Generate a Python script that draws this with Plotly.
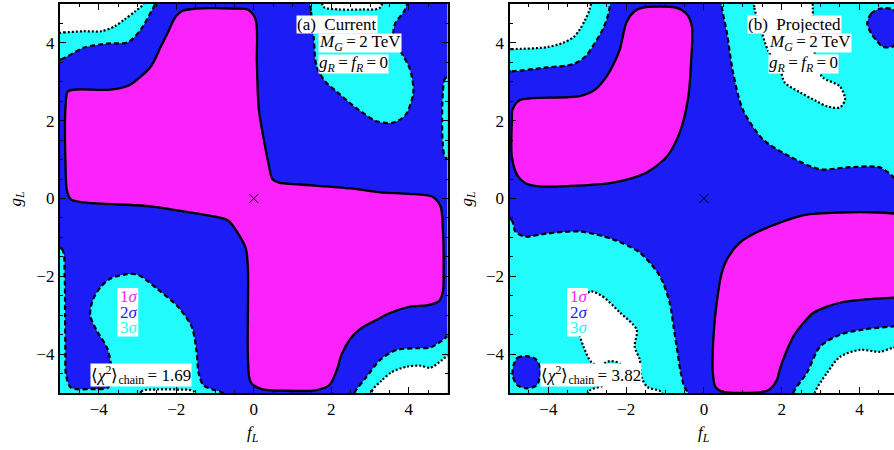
import plotly.graph_objects as go

# ---- fill colours of the confidence regions ----
MAGENTA = "#FB22FB"   # 1 sigma
BLUE = "#1C1CF6"      # 2 sigma
CYAN = "#22FBFB"      # 3 sigma
SERIF = "'Liberation Serif', 'Times New Roman', Times, serif"
TS = "\u2009"         # thin space around relations, as in typeset math

# ---- panel (a): Current ----  boundaries as (f_L, g_L) vertices
a_1sigma = [(-4.8, 2.75), (-4.6, 2.8), (-3.7, 2.8), (-3.2, 2.92), (-2.65, 3.4), (-2.4, 3.9),
            (-2.2, 4.3), (-2.05, 4.62), (-1.85, 4.82), (-1.5, 4.88), (-0.5, 4.88), (-0.15, 4.85),
            (0.05, 4.6), (0.08, 3.5), (0.13, 2.3), (0.3, 1.3), (0.38, 0.9), (0.48, 0.5),
            (0.65, 0.41), (1.2, 0.36), (2.5, 0.26), (3.27, 0.16), (4.0, 0.12), (4.6, 0.05),
            (4.82, -0.2), (4.88, -0.8), (4.9, -1.8), (4.88, -2.4), (4.78, -2.64), (4.5, -2.74),
            (4.04, -2.78), (3.5, -2.95), (3.19, -3.11), (2.75, -3.35), (2.5, -3.6), (2.27, -4.0),
            (2.14, -4.42), (1.95, -4.8), (1.6, -4.93), (0.8, -4.94), (0.2, -4.9), (-0.08, -4.72),
            (-0.15, -4.1), (-0.15, -1.8), (-0.2, -1.3), (-0.33, -1.02), (-0.67, -0.56),
            (-1.03, -0.46), (-2.0, -0.3), (-2.65, -0.2), (-4.37, -0.1), (-4.72, -0.02),
            (-4.82, 0.2), (-4.86, 1.0), (-4.86, 2.3)]
a_3sigma = [
    [(-5.4, 3.55), (-4.97, 3.58), (-4.38, 3.88), (-3.8, 3.98), (-3.24, 4.02), (-2.91, 4.35),
     (-2.65, 4.8), (-2.55, 5.0), (-2.5, 5.4), (-5.4, 5.4)],
    [(1.45, 5.4), (1.48, 4.8), (1.55, 4.1), (1.62, 3.4), (1.85, 3.0), (2.16, 2.73), (2.68, 2.3),
     (3.19, 1.98), (3.6, 1.95), (3.92, 2.15), (4.12, 2.75), (4.02, 3.35), (3.75, 3.85),
     (3.6, 4.15), (3.65, 4.5), (3.9, 4.85), (4.0, 5.4)],
    [(5.4, 3.15), (4.95, 3.1), (4.88, 2.7), (4.86, 2.0), (4.88, 1.4), (4.95, 1.05), (5.4, 1.0)],
    [(-5.4, -1.25), (-4.95, -1.3), (-4.88, -2.0), (-4.87, -3.0), (-4.86, -4.0), (-4.85, -4.5),
     (-4.72, -4.86), (-4.2, -4.9), (-3.75, -4.85), (-3.68, -4.35), (-3.78, -3.85),
     (-4.05, -3.4), (-4.22, -3.0), (-4.15, -2.6), (-3.94, -2.26), (-3.68, -2.05),
     (-3.3, -1.95), (-2.99, -1.96), (-2.47, -2.34), (-1.96, -2.78), (-1.6, -3.3),
     (-1.48, -3.9), (-1.42, -4.5), (-1.3, -4.8), (-1.0, -4.93), (-0.8, -5.0), (-0.78, -5.4),
     (-5.4, -5.4)],
    [(2.55, -5.4), (2.6, -5.0), (2.9, -4.6), (3.27, -4.14), (3.7, -3.89), (4.2, -3.85),
     (4.56, -3.83), (4.85, -3.66), (5.0, -3.55), (5.4, -3.5), (5.4, -5.4)],
]
a_outside = [
    [(-5.4, 4.25), (-4.9, 4.27), (-4.4, 4.3), (-3.94, 4.3), (-3.6, 4.42), (-3.34, 4.6),
     (-3.05, 4.82), (-2.85, 5.0), (-2.8, 5.4), (-5.4, 5.4)],
    [(1.75, 5.4), (1.8, 4.93), (2.2, 4.86), (2.8, 4.86), (3.25, 4.9), (3.35, 5.4)],
    [(-2.95, -5.4), (-2.9, -4.96), (-2.5, -4.91), (-2.0, -4.91), (-1.55, -4.96), (-1.5, -5.4)],
    [(3.0, -5.4), (3.05, -4.95), (3.3, -4.68), (3.55, -4.47), (3.96, -4.32), (4.3, -4.3),
     (4.56, -4.35), (4.85, -4.16), (5.0, -4.05), (5.4, -4.0), (5.4, -5.4)],
]
a_2sigma_islands = []
a_chi2 = "1.69"

# ---- panel (b): Projected ----
b_1sigma = [
    [(-4.94, 1.96), (-4.92, 2.29), (-4.75, 2.52), (-4.4, 2.58), (-3.19, 2.63), (-2.8, 2.8),
     (-2.5, 3.14), (-2.3, 3.5), (-2.16, 3.84), (-1.99, 4.53), (-1.8, 4.8), (-1.6, 4.9),
     (-0.7, 4.9), (-0.45, 4.75), (-0.31, 4.43), (-0.33, 3.5), (-0.41, 2.55), (-0.62, 1.7),
     (-0.95, 1.08), (-1.47, 0.67), (-2.34, 0.41), (-3.5, 0.32), (-4.22, 0.31), (-4.6, 0.4),
     (-4.8, 0.6), (-4.94, 1.08)],
    [(0.23, -4.48), (0.25, -3.5), (0.33, -2.68), (0.45, -1.95), (0.59, -1.57), (0.93, -1.13),
     (1.4, -0.85), (1.96, -0.62), (2.6, -0.42), (3.5, -0.36), (4.5, -0.36), (5.0, -0.4),
     (5.4, -0.5), (5.4, -2.5), (4.86, -2.55), (4.09, -2.6), (3.5, -2.68), (3.17, -2.78),
     (2.8, -2.95), (2.57, -3.19), (2.3, -3.55), (2.14, -3.89), (1.95, -4.4), (1.88, -4.66),
     (1.7, -4.9), (1.52, -4.97), (0.49, -4.97), (0.3, -4.85)],
]
b_3sigma = [
    [(-5.4, 3.27), (-4.94, 3.27), (-4.04, 3.37), (-3.37, 3.45), (-3.05, 3.65), (-2.86, 3.91),
     (-2.6, 4.35), (-2.47, 4.7), (-2.42, 4.95), (-2.4, 5.4), (-5.4, 5.4)],
    [(0.45, 5.4), (0.46, 4.94), (0.59, 4.27), (0.75, 3.24), (1.0, 2.29), (1.52, 1.52),
     (2.21, 1.08), (2.99, 0.75), (3.68, 0.8), (4.53, 0.8), (4.86, 0.57), (5.0, 0.45),
     (5.4, 0.4), (5.4, 5.4)],
    [(-5.4, -0.5), (-4.95, -0.55), (-4.85, -0.85), (-4.6, -0.98), (-4.04, -0.9), (-3.19, -0.85),
     (-2.34, -1.05), (-1.65, -1.39), (-1.13, -2.0), (-0.88, -2.68), (-0.78, -3.3),
     (-0.7, -3.81), (-0.6, -4.45), (-0.5, -4.85), (-0.4, -5.0), (-0.35, -5.4), (-5.4, -5.4)],
    [(2.29, -5.4), (2.3, -5.0), (2.65, -4.48), (2.99, -3.81), (3.5, -3.5), (4.09, -3.37),
     (4.86, -3.29), (5.4, -3.25), (5.4, -5.4)],
]
b_outside = [
    [(-5.4, 3.84), (-4.94, 3.84), (-4.04, 3.89), (-3.63, 4.0), (-3.35, 4.15), (-3.19, 4.35),
     (-3.05, 4.6), (-2.94, 4.86), (-2.9, 5.4), (-5.4, 5.4)],
    [(1.3, 5.4), (1.3, 4.9), (1.45, 4.4), (1.65, 3.8), (1.96, 3.32), (2.08, 2.98), (2.47, 2.73),
     (2.9, 2.5), (3.17, 2.37), (3.5, 2.34), (3.63, 2.55), (3.5, 2.88), (3.06, 3.11),
     (2.9, 3.4), (2.82, 4.2), (2.8, 4.9), (2.75, 5.4)],
    [(-2.89, -2.39), (-2.6, -2.52), (-2.16, -2.93), (-1.73, -3.37), (-1.78, -3.81),
     (-1.65, -4.14), (-1.6, -4.6), (-1.45, -4.85), (-1.1, -4.97), (-1.0, -5.4), (-2.95, -5.4),
     (-2.95, -4.95), (-2.55, -4.8), (-2.2, -4.55), (-2.16, -4.25), (-2.42, -4.18),
     (-2.7, -4.3), (-2.9, -4.2), (-3.1, -3.8), (-3.25, -3.3), (-3.25, -2.85), (-3.1, -2.5)],
    [(2.83, -5.4), (2.85, -5.0), (3.17, -4.48), (3.5, -4.07), (4.02, -3.89), (4.53, -3.94),
     (4.86, -3.84), (5.4, -3.8), (5.4, -5.4)],
]
b_2sigma_islands = [
    [(4.2, 4.5), (4.3, 4.75), (4.5, 4.87), (4.8, 4.88), (5.05, 4.7), (5.05, 4.1), (4.85, 3.9),
     (4.6, 3.9), (4.45, 4.05), (4.3, 4.25)],
    [(-4.9, -4.3), (-4.8, -4.1), (-4.55, -4.05), (-4.3, -4.15), (-4.2, -4.45), (-4.3, -4.8),
     (-4.55, -4.88), (-4.8, -4.8), (-4.92, -4.55)],
]
b_chi2 = "3.82"

best_fit = (0.0, 0.0)
panel_tags = ["(a)  Current", "(b)  Projected"]
sigma_labels = ["1<i>σ</i>", "2<i>σ</i>", "3<i>σ</i>"]
tick_vals = [-4, -2, 0, 2, 4]

DASH_2S = "5px,3px"
DOT_3S = "2px,2px"


def region(pts, fill, dash, width, xa, ya):
    f = [p[0] for p in pts] + [pts[0][0]]
    g = [p[1] for p in pts] + [pts[0][1]]
    return go.Scatter(x=f, y=g, mode="lines", fill="toself", fillcolor=fill,
                      line=dict(color="black", width=width, dash=dash,
                                shape="spline", smoothing=0.8),
                      xaxis=xa, yaxis=ya, hoverinfo="skip", showlegend=False)


fig = go.Figure()
panels = [
    ("x", "y", a_3sigma, a_outside, a_2sigma_islands, [a_1sigma]),
    ("x2", "y2", b_3sigma, b_outside, b_2sigma_islands, b_1sigma),
]
for xa, ya, s3, out, isl, s1 in panels:
    for pts in s3:
        fig.add_trace(region(pts, CYAN, DASH_2S, 2.2, xa, ya))
    for pts in out:
        fig.add_trace(region(pts, "white", DOT_3S, 2.2, xa, ya))
    for pts in isl:
        fig.add_trace(region(pts, BLUE, DASH_2S, 2.2, xa, ya))
    for pts in s1:
        fig.add_trace(region(pts, MAGENTA, None, 2.3, xa, ya))
    fig.add_trace(go.Scatter(x=[best_fit[0]], y=[best_fit[1]], mode="markers",
                             marker=dict(symbol="x-thin", size=9, color="black",
                                         line=dict(width=1, color="black")),
                             xaxis=xa, yaxis=ya, hoverinfo="skip", showlegend=False))

axis_font = dict(family=SERIF, size=17, color="black")
common = dict(showline=True, linecolor="black", linewidth=2, ticks="inside", ticklen=6,
              tickwidth=1.2, tickcolor="black", tickvals=tick_vals,
              minor=dict(dtick=0.5, tick0=0, ticks="inside", ticklen=3, tickcolor="black",
                         tickwidth=1),
              showgrid=False, zeroline=False, tickfont=axis_font, fixedrange=True)

W, H = 894, 450
L, R, T, B = 60, 0, 4, 57
pw = W - L - R
fig.update_layout(
    width=W, height=H, margin=dict(l=L, r=R, t=T, b=B),
    paper_bgcolor="white", plot_bgcolor=BLUE,
    font=dict(family=SERIF),
    xaxis=dict(common, range=[-5, 5], domain=[0, (447.5 - L) / pw], mirror="allticks",
               anchor="y"),
    yaxis=dict(common, range=[-5, 5], domain=[0, 1], mirror="allticks", anchor="x"),
    xaxis2=dict(common, range=[-5, 4.89], domain=[(509.5 - L) / pw, 1], mirror="allticks",
                anchor="y2"),
    yaxis2=dict(common, range=[-5, 5], domain=[0, 1], mirror=False, anchor="x2"),
    showlegend=False,
)

ann = []
shapes = []
txt_font = dict(family=SERIF, size=17, color="black")
sigma_colors = [MAGENTA, BLUE, CYAN]
for i, (xa, ya, chi2) in enumerate([("x", "y", a_chi2), ("x2", "y2", b_chi2)]):
    boxes = [
        (1.1, 4.47, panel_tags[i], 17),
        (1.66, 3.99, f"<i>M</i><sub><i>G</i></sub>{TS}={TS}2 TeV", 18),
        (1.66, 3.47, f"<i>g</i><sub><i>R</i></sub>{TS}={TS}<i>f</i><sub><i>R</i></sub>{TS}={TS}0", 18),
        (-4.22, -4.53, f"⟨<i>χ</i><sup>2</sup>⟩<sub>chain</sub>{TS}= " + chi2, 22),
    ]
    for fx, gy, t, h in boxes:
        ann.append(dict(x=fx, y=gy, xref=xa, yref=ya, text=t, showarrow=False,
                        xanchor="left", yanchor="middle", bgcolor="white", borderpad=0,
                        height=h, valign="middle", font=txt_font))
    # sigma key: one white panel behind three coloured lines
    shapes.append(dict(type="rect", xref=xa, yref=ya, x0=-3.52, x1=-2.98, y0=-3.55, y1=-2.3,
                       fillcolor="white", line=dict(width=0), layer="above"))
    for k, (lab, col) in enumerate(zip(sigma_labels, sigma_colors)):
        ann.append(dict(x=-3.5, y=-2.52 - 0.4 * k, xref=xa, yref=ya, text=lab,
                        showarrow=False, xanchor="left", yanchor="middle",
                        height=15, valign="middle",
                        font=dict(txt_font, color=col)))

# axis titles
for px_x in (253, 704):
    ann.append(dict(x=(px_x - L) / pw, y=(393 - 434) / 389, xref="paper", yref="paper",
                    text="<i>f</i><sub><i>L</i></sub>", showarrow=False,
                    xanchor="center", yanchor="middle", font=txt_font))
for px_x in (16, 467):
    ann.append(dict(x=(px_x - L) / pw, y=0.5, xref="paper", yref="paper",
                    text="<i>g</i><sub><i>L</i></sub>", showarrow=False, textangle=-90,
                    xanchor="center", yanchor="middle", font=txt_font))
fig.update_layout(annotations=ann, shapes=shapes)

fig.write_html("out.html")
